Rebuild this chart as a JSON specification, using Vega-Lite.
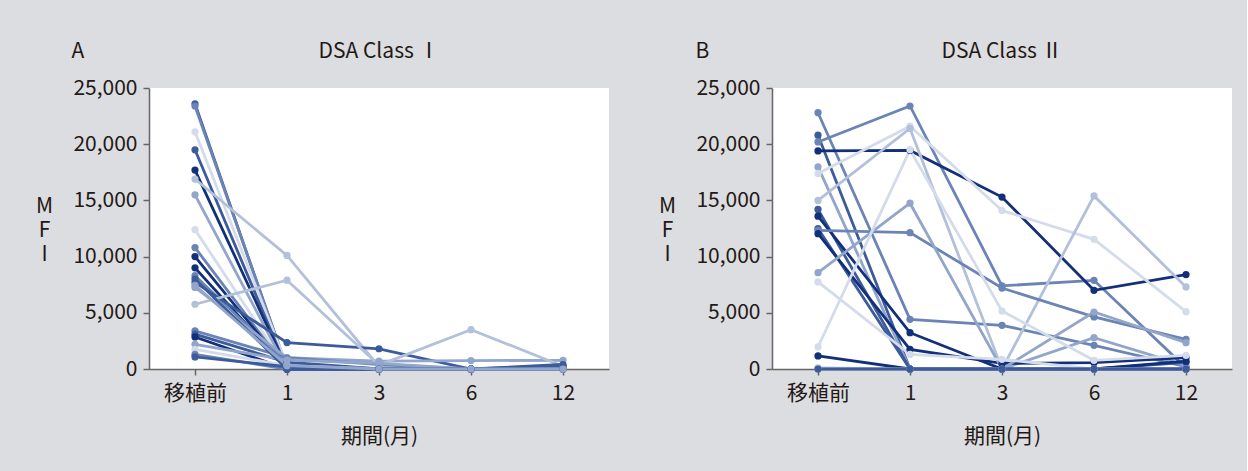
{
  "$schema": "https://vega.github.io/schema/vega-lite/v6.json",
  "background": "#dcdde0",
  "padding": {"left": 35, "top": 40, "right": 15, "bottom": 26},
  "datasets": {
    "classI": [
      {"p": "A01", "t": "移植前", "v": 23600}, {"p": "A01", "t": "1", "v": 0}, {"p": "A01", "t": "3", "v": 0}, {"p": "A01", "t": "6", "v": 0}, {"p": "A01", "t": "12", "v": 0},
      {"p": "A02", "t": "移植前", "v": 23400}, {"p": "A02", "t": "1", "v": 100}, {"p": "A02", "t": "3", "v": 0}, {"p": "A02", "t": "6", "v": 0}, {"p": "A02", "t": "12", "v": 100},
      {"p": "A03", "t": "移植前", "v": 21100}, {"p": "A03", "t": "1", "v": 300}, {"p": "A03", "t": "3", "v": 0}, {"p": "A03", "t": "6", "v": 0}, {"p": "A03", "t": "12", "v": 0},
      {"p": "A04", "t": "移植前", "v": 19500}, {"p": "A04", "t": "1", "v": 0}, {"p": "A04", "t": "3", "v": 0}, {"p": "A04", "t": "6", "v": 0}, {"p": "A04", "t": "12", "v": 200},
      {"p": "A05", "t": "移植前", "v": 17700}, {"p": "A05", "t": "1", "v": 0}, {"p": "A05", "t": "3", "v": 0}, {"p": "A05", "t": "6", "v": 0}, {"p": "A05", "t": "12", "v": 100},
      {"p": "A06", "t": "移植前", "v": 16900}, {"p": "A06", "t": "1", "v": 10100}, {"p": "A06", "t": "3", "v": 200}, {"p": "A06", "t": "6", "v": 0}, {"p": "A06", "t": "12", "v": 0},
      {"p": "A07", "t": "移植前", "v": 15500}, {"p": "A07", "t": "1", "v": 0}, {"p": "A07", "t": "3", "v": 0}, {"p": "A07", "t": "6", "v": 0}, {"p": "A07", "t": "12", "v": 0},
      {"p": "A08", "t": "移植前", "v": 12400}, {"p": "A08", "t": "1", "v": 0}, {"p": "A08", "t": "3", "v": 0}, {"p": "A08", "t": "6", "v": 0}, {"p": "A08", "t": "12", "v": 0},
      {"p": "A09", "t": "移植前", "v": 10800}, {"p": "A09", "t": "1", "v": 0}, {"p": "A09", "t": "3", "v": 0}, {"p": "A09", "t": "6", "v": 0}, {"p": "A09", "t": "12", "v": 0},
      {"p": "A10", "t": "移植前", "v": 10000}, {"p": "A10", "t": "1", "v": 0}, {"p": "A10", "t": "3", "v": 0}, {"p": "A10", "t": "6", "v": 0}, {"p": "A10", "t": "12", "v": 0},
      {"p": "A11", "t": "移植前", "v": 9000}, {"p": "A11", "t": "1", "v": 0}, {"p": "A11", "t": "3", "v": 0}, {"p": "A11", "t": "6", "v": 0}, {"p": "A11", "t": "12", "v": 100},
      {"p": "A12", "t": "移植前", "v": 8300}, {"p": "A12", "t": "1", "v": 500}, {"p": "A12", "t": "3", "v": 0}, {"p": "A12", "t": "6", "v": 0}, {"p": "A12", "t": "12", "v": 0},
      {"p": "A13", "t": "移植前", "v": 7700}, {"p": "A13", "t": "1", "v": 2350}, {"p": "A13", "t": "3", "v": 1800}, {"p": "A13", "t": "6", "v": 0}, {"p": "A13", "t": "12", "v": 300},
      {"p": "A14", "t": "移植前", "v": 7250}, {"p": "A14", "t": "1", "v": 1000}, {"p": "A14", "t": "3", "v": 700}, {"p": "A14", "t": "6", "v": 750}, {"p": "A14", "t": "12", "v": 770},
      {"p": "A15", "t": "移植前", "v": 5760}, {"p": "A15", "t": "1", "v": 7900}, {"p": "A15", "t": "3", "v": 350}, {"p": "A15", "t": "6", "v": 3500}, {"p": "A15", "t": "12", "v": 250},
      {"p": "A16", "t": "移植前", "v": 3400}, {"p": "A16", "t": "1", "v": 1000}, {"p": "A16", "t": "3", "v": 400}, {"p": "A16", "t": "6", "v": 0}, {"p": "A16", "t": "12", "v": 0},
      {"p": "A17", "t": "移植前", "v": 3100}, {"p": "A17", "t": "1", "v": 600}, {"p": "A17", "t": "3", "v": 0}, {"p": "A17", "t": "6", "v": 0}, {"p": "A17", "t": "12", "v": 200},
      {"p": "A18", "t": "移植前", "v": 2850}, {"p": "A18", "t": "1", "v": 0}, {"p": "A18", "t": "3", "v": 0}, {"p": "A18", "t": "6", "v": 0}, {"p": "A18", "t": "12", "v": 0},
      {"p": "A19", "t": "移植前", "v": 2200}, {"p": "A19", "t": "1", "v": 800}, {"p": "A19", "t": "3", "v": 500}, {"p": "A19", "t": "6", "v": 0}, {"p": "A19", "t": "12", "v": 0},
      {"p": "A20", "t": "移植前", "v": 1750}, {"p": "A20", "t": "1", "v": 300}, {"p": "A20", "t": "3", "v": 0}, {"p": "A20", "t": "6", "v": 0}, {"p": "A20", "t": "12", "v": 0},
      {"p": "A21", "t": "移植前", "v": 1300}, {"p": "A21", "t": "1", "v": 0}, {"p": "A21", "t": "3", "v": 0}, {"p": "A21", "t": "6", "v": 0}, {"p": "A21", "t": "12", "v": 0},
      {"p": "A22", "t": "移植前", "v": 1070}, {"p": "A22", "t": "1", "v": 200}, {"p": "A22", "t": "3", "v": 0}, {"p": "A22", "t": "6", "v": 0}, {"p": "A22", "t": "12", "v": 400},
      {"p": "A23", "t": "移植前", "v": 8000}, {"p": "A23", "t": "1", "v": 0}, {"p": "A23", "t": "3", "v": 0}, {"p": "A23", "t": "6", "v": 0}, {"p": "A23", "t": "12", "v": 0},
      {"p": "A24", "t": "移植前", "v": 7450}, {"p": "A24", "t": "1", "v": 300}, {"p": "A24", "t": "3", "v": 0}, {"p": "A24", "t": "6", "v": 0}, {"p": "A24", "t": "12", "v": 0}
    ],
    "classII": [
      {"p": "B01", "t": "移植前", "v": 22800}, {"p": "B01", "t": "1", "v": 4420}, {"p": "B01", "t": "3", "v": 3890}, {"p": "B01", "t": "6", "v": 2110}, {"p": "B01", "t": "12", "v": 200},
      {"p": "B02", "t": "移植前", "v": 20800}, {"p": "B02", "t": "1", "v": 0}, {"p": "B02", "t": "3", "v": 0}, {"p": "B02", "t": "6", "v": 0}, {"p": "B02", "t": "12", "v": 0},
      {"p": "B03", "t": "移植前", "v": 20200}, {"p": "B03", "t": "1", "v": 23400}, {"p": "B03", "t": "3", "v": 7400}, {"p": "B03", "t": "6", "v": 7890}, {"p": "B03", "t": "12", "v": 100},
      {"p": "B04", "t": "移植前", "v": 19400}, {"p": "B04", "t": "1", "v": 19450}, {"p": "B04", "t": "3", "v": 15300}, {"p": "B04", "t": "6", "v": 7000}, {"p": "B04", "t": "12", "v": 8400},
      {"p": "B05", "t": "移植前", "v": 17980}, {"p": "B05", "t": "1", "v": 0}, {"p": "B05", "t": "3", "v": 0}, {"p": "B05", "t": "6", "v": 2790}, {"p": "B05", "t": "12", "v": 300},
      {"p": "B06", "t": "移植前", "v": 17400}, {"p": "B06", "t": "1", "v": 21600}, {"p": "B06", "t": "3", "v": 14100}, {"p": "B06", "t": "6", "v": 11540}, {"p": "B06", "t": "12", "v": 5100},
      {"p": "B07", "t": "移植前", "v": 15000}, {"p": "B07", "t": "1", "v": 21400}, {"p": "B07", "t": "3", "v": 0}, {"p": "B07", "t": "6", "v": 15400}, {"p": "B07", "t": "12", "v": 7300},
      {"p": "B08", "t": "移植前", "v": 14200}, {"p": "B08", "t": "1", "v": 0}, {"p": "B08", "t": "3", "v": 0}, {"p": "B08", "t": "6", "v": 0}, {"p": "B08", "t": "12", "v": 600},
      {"p": "B09", "t": "移植前", "v": 13600}, {"p": "B09", "t": "1", "v": 3230}, {"p": "B09", "t": "3", "v": 0}, {"p": "B09", "t": "6", "v": 0}, {"p": "B09", "t": "12", "v": 700},
      {"p": "B10", "t": "移植前", "v": 12500}, {"p": "B10", "t": "1", "v": 0}, {"p": "B10", "t": "3", "v": 0}, {"p": "B10", "t": "6", "v": 0}, {"p": "B10", "t": "12", "v": 0},
      {"p": "B11", "t": "移植前", "v": 12340}, {"p": "B11", "t": "1", "v": 12130}, {"p": "B11", "t": "3", "v": 7200}, {"p": "B11", "t": "6", "v": 4630}, {"p": "B11", "t": "12", "v": 2640},
      {"p": "B12", "t": "移植前", "v": 12040}, {"p": "B12", "t": "1", "v": 1750}, {"p": "B12", "t": "3", "v": 500}, {"p": "B12", "t": "6", "v": 560}, {"p": "B12", "t": "12", "v": 1010},
      {"p": "B13", "t": "移植前", "v": 8570}, {"p": "B13", "t": "1", "v": 14750}, {"p": "B13", "t": "3", "v": 0}, {"p": "B13", "t": "6", "v": 5070}, {"p": "B13", "t": "12", "v": 2340},
      {"p": "B14", "t": "移植前", "v": 7750}, {"p": "B14", "t": "1", "v": 1300}, {"p": "B14", "t": "3", "v": 860}, {"p": "B14", "t": "6", "v": 0}, {"p": "B14", "t": "12", "v": 0},
      {"p": "B15", "t": "移植前", "v": 1960}, {"p": "B15", "t": "1", "v": 19500}, {"p": "B15", "t": "3", "v": 5160}, {"p": "B15", "t": "6", "v": 770}, {"p": "B15", "t": "12", "v": 1220},
      {"p": "B16", "t": "移植前", "v": 1160}, {"p": "B16", "t": "1", "v": 0}, {"p": "B16", "t": "3", "v": 0}, {"p": "B16", "t": "6", "v": 0}, {"p": "B16", "t": "12", "v": 0},
      {"p": "B17", "t": "移植前", "v": 100}, {"p": "B17", "t": "1", "v": 0}, {"p": "B17", "t": "3", "v": 0}, {"p": "B17", "t": "6", "v": 0}, {"p": "B17", "t": "12", "v": 0},
      {"p": "B18", "t": "移植前", "v": 0}, {"p": "B18", "t": "1", "v": 0}, {"p": "B18", "t": "3", "v": 0}, {"p": "B18", "t": "6", "v": 0}, {"p": "B18", "t": "12", "v": 0}
    ]
  },
  "resolve": {"scale": {"color": "independent"}},
  "spacing": 49,
  "hconcat": [
    {
      "width": 460,
      "height": 281,
      "data": {"name": "classI"},
      "title": {"text": "DSA Class Ⅰ", "dy": 26},
      "layer": [
        {
          "mark": {"type": "line", "strokeWidth": 2.8},
          "encoding": {
            "x": {"field": "t", "type": "ordinal", "scale": {"type": "point", "domain": ["移植前", "1", "3", "6", "12"], "padding": 0.5},
                  "axis": {"orient": "bottom", "title": "期間(月)", "labelAngle": 0}},
            "y": {"field": "v", "type": "quantitative", "scale": {"domain": [0, 25000], "nice": false},
                  "axis": {"title": ["M", "F", "I"], "values": [0, 5000, 10000, 15000, 20000, 25000], "format": ",.0f"}},
            "color": {"field": "p", "type": "nominal", "legend": null,
                      "scale": {"domain": ["A01","A02","A03","A04","A05","A06","A07","A08","A09","A10","A11","A12","A13","A14","A15","A16","A17","A18","A19","A20","A21","A22","A23","A24"],
                                "range": ["#3c5b9a","#6b84b6","#d4dbea","#3c5b9a","#122f7a","#b3c0da","#92a5cb","#d4dbea","#6b84b6","#122f7a","#122f7a","#6b84b6","#3c5b9a","#92a5cb","#b3c0da","#6b84b6","#3c5b9a","#122f7a","#92a5cb","#d4dbea","#6b84b6","#3c5b9a","#3c5b9a","#92a5cb"]}},
            "order": {"value": null}
          }
        },
        {
          "mark": {"type": "circle", "size": 52, "opacity": 1},
          "encoding": {
            "x": {"field": "t", "type": "ordinal", "scale": {"type": "point", "domain": ["移植前", "1", "3", "6", "12"], "padding": 0.5},
                  "axis": {"orient": "top", "title": "A", "labels": false, "ticks": false, "domain": false, "titleAnchor": "start", "titleAlign": "left", "titleX": -78, "titleY": -31, "titleBaseline": "alphabetic"}},
            "y": {"field": "v", "type": "quantitative", "scale": {"domain": [0, 25000], "nice": false}},
            "color": {"field": "p", "type": "nominal", "legend": null}
          }
        }
      ]
    },
    {
      "width": 460,
      "height": 281,
      "data": {"name": "classII"},
      "title": {"text": "DSA Class Ⅱ", "dy": 26},
      "layer": [
        {
          "mark": {"type": "line", "strokeWidth": 2.8},
          "encoding": {
            "x": {"field": "t", "type": "ordinal", "scale": {"type": "point", "domain": ["移植前", "1", "3", "6", "12"], "padding": 0.5},
                  "axis": {"orient": "bottom", "title": "期間(月)", "labelAngle": 0}},
            "y": {"field": "v", "type": "quantitative", "scale": {"domain": [0, 25000], "nice": false},
                  "axis": {"title": ["M", "F", "I"], "values": [0, 5000, 10000, 15000, 20000, 25000], "format": ",.0f"}},
            "color": {"field": "p", "type": "nominal", "legend": null,
                      "scale": {"domain": ["B01","B02","B03","B04","B05","B06","B07","B08","B09","B10","B11","B12","B13","B14","B15","B16","B17","B18"],
                                "range": ["#6b84b6","#3c5b9a","#6b84b6","#122f7a","#92a5cb","#d4dbea","#b3c0da","#3c5b9a","#122f7a","#3c5b9a","#6b84b6","#122f7a","#92a5cb","#d4dbea","#d4dbea","#122f7a","#b3c0da","#3c5b9a"]}},
            "order": {"value": null}
          }
        },
        {
          "mark": {"type": "circle", "size": 52, "opacity": 1},
          "encoding": {
            "x": {"field": "t", "type": "ordinal", "scale": {"type": "point", "domain": ["移植前", "1", "3", "6", "12"], "padding": 0.5},
                  "axis": {"orient": "top", "title": "B", "labels": false, "ticks": false, "domain": false, "titleAnchor": "start", "titleAlign": "left", "titleX": -77, "titleY": -31, "titleBaseline": "alphabetic"}},
            "y": {"field": "v", "type": "quantitative", "scale": {"domain": [0, 25000], "nice": false}},
            "color": {"field": "p", "type": "nominal", "legend": null}
          }
        }
      ]
    }
  ],
  "config": {
    "font": "Noto Sans CJK JP",
    "view": {"fill": "#ffffff", "stroke": null},
    "axis": {
      "grid": false,
      "labelFont": "Noto Sans CJK JP",
      "titleFont": "Noto Sans CJK JP",
      "labelFontSize": 21,
      "titleFontSize": 21,
      "titleFontWeight": "normal",
      "labelColor": "#231815",
      "titleColor": "#231815",
      "domainColor": "#666666",
      "tickColor": "#666666",
      "domainWidth": 1.5,
      "tickWidth": 1.5,
      "tickSize": 6
    },
    "axisLeft": {
      "labelPadding": 6,
      "titleAngle": 0,
      "titleAlign": "center",
      "titleBaseline": "middle",
      "titleFontSize": 21,
      "titleLineHeight": 24,
      "titleX": -105,
      "titleY": 118
    },
    "axisBottom": {"labelPadding": 7, "titlePadding": 22},
    "title": {
      "font": "Noto Sans CJK JP",
      "fontSize": 21,
      "fontWeight": "normal",
      "color": "#231815",
      "anchor": "middle",
      "frame": "group",
      "offset": 4
    }
  }
}
